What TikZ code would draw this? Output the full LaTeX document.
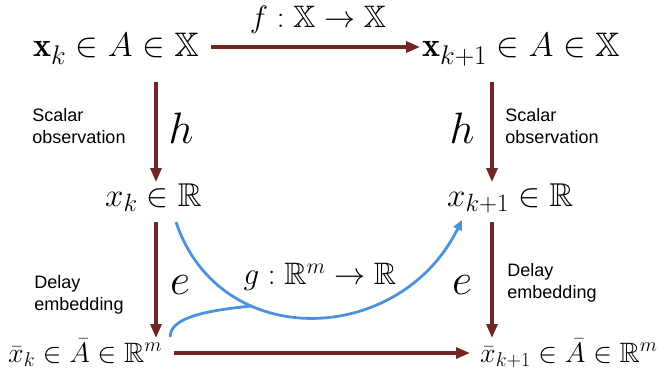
\RequirePackage{fix-cm}
\documentclass[tikz,border=0pt]{standalone}
\usepackage{amsmath,amssymb}
\usepackage{fontspec}
\usepackage{xcolor}
\usepackage{tikz}
\usetikzlibrary{arrows.meta}
\newfontfamily\notefont{Liberation Sans}
\DeclareMathSizes{34}{34}{27}{20}
\DeclareMathSizes{33}{33}{25}{19}
\DeclareMathSizes{28}{28}{20}{15}
\definecolor{mapred}{RGB}{112,38,38}
\definecolor{fitblue}{RGB}{76,144,224}
\tikzset{
	commtop/.style={inner sep=0pt,anchor=base west,font=\fontsize{34}{38}\selectfont},
	commmid/.style={inner sep=0pt,anchor=base west,font=\fontsize{33}{37}\selectfont},
	commlow/.style={inner sep=0pt,anchor=base west,font=\fontsize{28}{32}\selectfont},
	commlabel/.style={inner sep=0pt,font=\fontsize{31}{36}\selectfont},
	commname/.style={inner sep=0pt,font=\fontsize{44}{50}\selectfont},
	commnote/.style={inner sep=0pt,align=left,font=\notefont\fontsize{18}{22}\selectfont},
	commmap/.style={draw=mapred,line width=3.2pt,-{Triangle[length=14pt,width=11pt]}},
	commfit/.style={draw=fitblue,line width=2.8pt}
}
\begin{document}
\begin{tikzpicture}[x=1pt,y=1pt]
	\useasboundingbox (0,0) rectangle (658,381);
	\node[commtop] (tl) at (33,324) {$\mathbf{x}_k\in A\in\mathbb{X}$};
	\node[commtop] (tr) at (422,324) {$\mathbf{x}_{k+1}\in A\in\mathbb{X}$};
	\node[commmid] (ml) at (105,175) {$x_k\in\mathbb{R}$};
	\node[commmid] (mr) at (447,175) {$x_{k+1}\in\mathbb{R}$};
	\node[commlow] (bl) at (8,19) {$\bar{x}_k\in\bar{A}\in\mathbb{R}^m$};
	\node[commlow] (br) at (480,19) {$\bar{x}_{k+1}\in\bar{A}\in\mathbb{R}^m$};
	\coordinate (colL) at (156,0);
	\coordinate (colR) at (492,0);
	% labels of the maps
	\node[commlabel] (fmap) at (318,361) {$f:\mathbb{X}\to\mathbb{X}$};
	\node[commlabel] (gmap) at (320,104) {$g:\mathbb{R}^m\to\mathbb{R}$};
	\node[commname] (hL) at (181,253) {$h$};
	\node[commname] (hR) at (462,253) {$h$};
	\node[commname] (eL) at (180,96) {$e$};
	\node[commname] (eR) at (462,96) {$e$};
	\node[commnote] (obsL) at (79,255) {Scalar\\observation};
	\node[commnote] (obsR) at (552,255) {Scalar\\observation};
	\node[commnote] (embL) at (79,86) {Delay\\embedding};
	\node[commnote] (embR) at (552,98) {Delay\\embedding};
	% maps
	\draw[commmap,shorten <=12pt,shorten >=2pt] ([yshift=10pt]tl.base east) -- ([yshift=10pt]tr.base west);
	\draw[commmap,shorten <=12pt,shorten >=10pt] ([yshift=9pt]bl.base east) -- ([yshift=9pt]br.base west);
	\draw[commmap,shorten <=25pt,shorten >=24pt] (tl.base -| colL) -- (ml.base -| colL);
	\draw[commmap,shorten <=25pt,shorten >=24pt] (tr.base -| colR) -- (mr.base -| colR);
	\draw[commmap,shorten <=16pt,shorten >=24pt] (ml.base -| colL) -- (bl.base -| colL);
	\draw[commmap,shorten <=16pt,shorten >=24pt] (mr.base -| colR) -- (br.base -| colR);
	% learned map
	\draw[commfit,-{Triangle[length=10pt,width=9pt]}] ([xshift=71pt,yshift=-16pt]ml.base west) .. controls (220,28) and (400,35) .. ([xshift=15pt,yshift=-14pt]mr.base west) coordinate[pos=0.32] (gjoin);
	\draw[commfit] ([xshift=8pt,yshift=25pt]bl.base east) .. controls (170,62) and (200,70) .. (gjoin);
\end{tikzpicture}
\end{document}
